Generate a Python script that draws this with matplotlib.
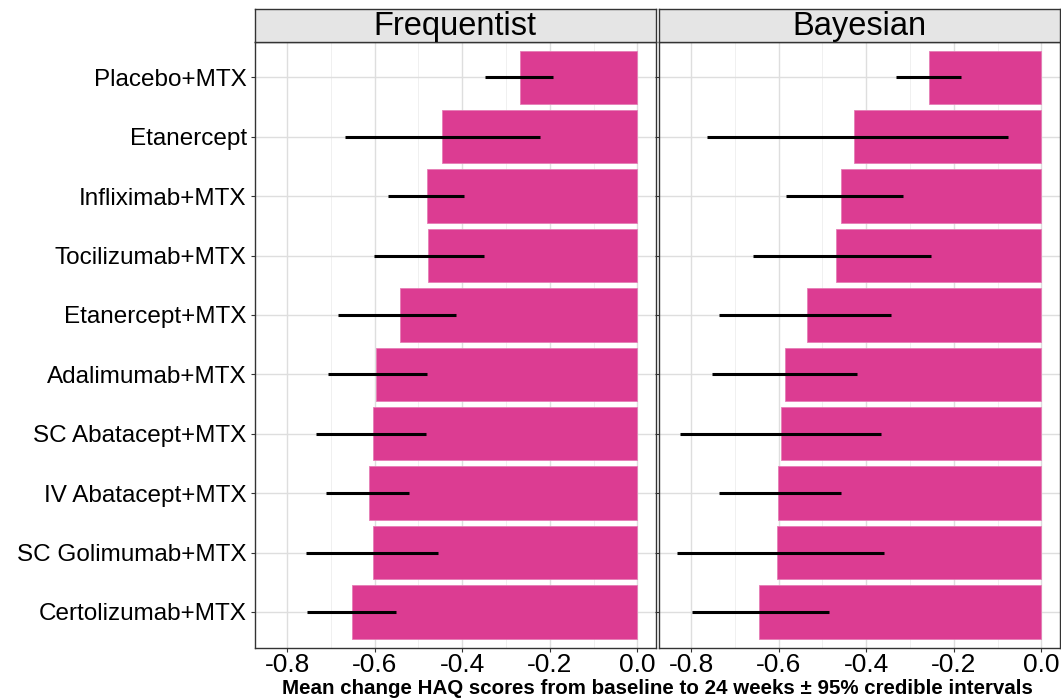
import matplotlib
matplotlib.use("Agg")
import matplotlib.pyplot as plt
from matplotlib.ticker import MultipleLocator

plt.rcParams['font.family'] = ['Liberation Sans', 'DejaVu Sans']

treatments = ["Placebo+MTX", "Etanercept", "Infliximab+MTX", "Tocilizumab+MTX",
              "Etanercept+MTX", "Adalimumab+MTX", "SC Abatacept+MTX",
              "IV Abatacept+MTX", "SC Golimumab+MTX", "Certolizumab+MTX"]

freq_mean = [-0.267, -0.446, -0.480, -0.478, -0.542, -0.596, -0.603, -0.612, -0.605, -0.653]
freq_low = [-0.347, -0.667, -0.569, -0.601, -0.683, -0.706, -0.734, -0.711, -0.756, -0.755]
freq_high = [-0.193, -0.222, -0.395, -0.350, -0.414, -0.480, -0.482, -0.521, -0.456, -0.551]

bayes_mean = [-0.257, -0.427, -0.458, -0.469, -0.535, -0.586, -0.595, -0.602, -0.604, -0.646]
bayes_low = [-0.333, -0.764, -0.584, -0.659, -0.737, -0.753, -0.826, -0.737, -0.832, -0.798]
bayes_high = [-0.184, -0.076, -0.316, -0.252, -0.343, -0.421, -0.366, -0.458, -0.360, -0.486]

panels = [("Frequentist", freq_mean, freq_low, freq_high),
          ("Bayesian", bayes_mean, bayes_low, bayes_high)]

W, H = 1061, 699
fig = plt.figure(figsize=(W / 100, H / 100), dpi=100)

bar_color = "#DC3C92"
x0s = [255, 659]
pw = 400.5
ptop, pbot = 41.7, 647.6
strip_top = 9

y = list(range(len(treatments)))

for i, (name, mean, low, high) in enumerate(panels):
    ax = fig.add_axes([x0s[i] / W, 1 - pbot / H, pw / W, (pbot - ptop) / H])
    ax.set_axisbelow(True)
    ax.barh(y, mean, height=0.9, color=bar_color, edgecolor="#E57DB5", linewidth=0.6, zorder=2)
    ax.hlines(y, low, high, color="black", linewidth=2.2, zorder=3)
    ax.set_xlim(-0.8736, 0.0416)
    ax.set_ylim(len(treatments) - 0.4, -0.6)
    ax.xaxis.set_major_locator(MultipleLocator(0.2))
    ax.xaxis.set_minor_locator(MultipleLocator(0.1))
    ax.grid(which="major", color="#DEDEDE", linewidth=1.0)
    ax.grid(which="minor", axis="x", color="#EEEEEE", linewidth=0.6)
    ax.set_xticks([-0.8, -0.6, -0.4, -0.2, 0.0])
    ax.set_xticklabels(["-0.8", "-0.6", "-0.4", "-0.2", "0.0"])
    ax.set_yticks(y)
    if i == 0:
        ax.set_yticklabels(treatments)
    else:
        ax.set_yticklabels([])
    ax.tick_params(axis="y", which="major", labelsize=17.5, color="#333333",
                   length=3, width=0.8, labelcolor="black", pad=3)
    ax.tick_params(axis="x", which="major", labelsize=19, color="#333333",
                   length=3, width=0.8, labelcolor="black", pad=1)
    ax.tick_params(axis="x", which="minor", length=0)
    for sp in ax.spines.values():
        sp.set_color("#333333")
        sp.set_linewidth(1.0)

    sax = fig.add_axes([x0s[i] / W, 1 - ptop / H, pw / W, (ptop - strip_top) / H])
    sax.set_facecolor("#E5E5E5")
    sax.set_xticks([])
    sax.set_yticks([])
    for sp in sax.spines.values():
        sp.set_color("#333333")
        sp.set_linewidth(1.0)
    sax.text(0.5, 0.45, name, ha="center", va="center", fontsize=23.5,
             transform=sax.transAxes)

fig.text((255 + 1059.5) / 2 / W, 1 - 688 / H,
         "Mean change HAQ scores from baseline to 24 weeks \u00b1 95% credible intervals",
         ha="center", va="center", fontsize=14.8, fontweight="bold")

fig.savefig("out.png", dpi=100)
